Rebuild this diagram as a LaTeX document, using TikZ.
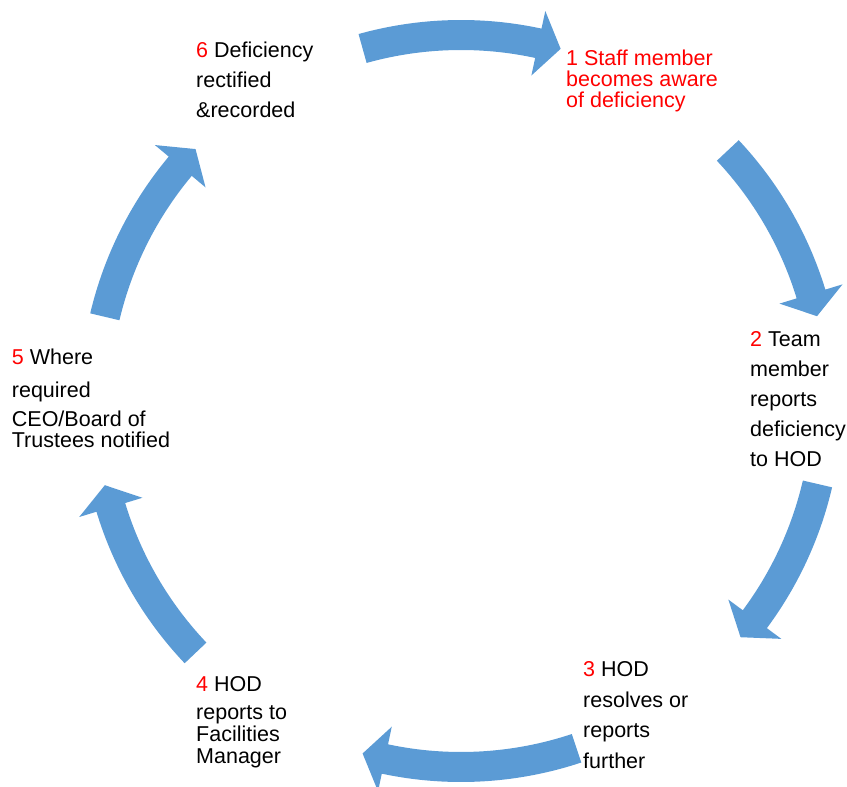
\documentclass[tikz,border=0pt]{standalone}
\usepackage{fontspec}
\setmainfont{Liberation Sans}
\definecolor{arrowblue}{HTML}{5B9BD5}
\newcommand\nm[1]{\textcolor{red}{#1}}
% curved block arrow on the cycle, from tail angle #1 to tip angle #2 (clockwise)
\newcommand\cycarrow[2]{%
  \fill[blockarrow,shift={(C)}] (#1:381)
    arc[start angle=#1,end angle={#2+3.6},radius=381]
    -- ({#2+3.6}:399) -- (#2:366) -- ({#2+3.6}:333) -- ({#2+3.6}:351)
    arc[start angle={#2+3.6},end angle=#1,radius=351] -- cycle;}
\begin{document}
\begin{tikzpicture}[x=1pt,y=1pt,
  blockarrow/.style={fill=arrowblue},
  lbl/.style={inner sep=0pt,anchor=base west,font=\fontsize{21.5}{21}\selectfont}]
\useasboundingbox (0,0) rectangle (847,787);
\clip (0,0) rectangle (847,787);
\coordinate (C) at (461,386);
% arrows
\cycarrow{105.6}{74.2}
\cycarrow{43.2}{13.4}
\cycarrow{-13.1}{-40.2}
\cycarrow{-71.6}{-105.6}
\cycarrow{-136.5}{-166.7}
\cycarrow{166.7}{136.5}
% labels
\node[lbl,text=red] (l1) at (566,721) {\vtop{\baselineskip=21pt
  \hbox{1 Staff member}\hbox{becomes aware}\hbox{of deficiency}}};
\node[lbl] (l2) at (750,440) {\vtop{\baselineskip=30pt
  \hbox{\nm{2} Team}\hbox{member}\hbox{reports}\hbox{deficiency}\hbox{to HOD}}};
\node[lbl] (l3) at (583,110) {\vtop{\baselineskip=30.5pt
  \hbox{\nm{3} HOD}\hbox{resolves or}\hbox{reports}\hbox{further}}};
\node[lbl] (l4) at (196,95.3) {\vtop{\baselineskip=21.7pt
  \hbox{\nm{4} HOD}\vskip6.3pt\hbox{reports to}\hbox{Facilities}\hbox{Manager}}};
\node[lbl] (l5) at (11.7,422) {\vtop{\baselineskip=21.7pt
  \hbox{\nm{5} Where}\vskip11.3pt\hbox{required}\vskip6.6pt\hbox{CEO/Board of}\hbox{Trustees notified}}};
\node[lbl] (l6) at (196,729) {\vtop{\baselineskip=30pt
  \hbox{\nm{6} Deficiency}\hbox{rectified}\hbox{\&recorded}}};
\end{tikzpicture}
\end{document}
